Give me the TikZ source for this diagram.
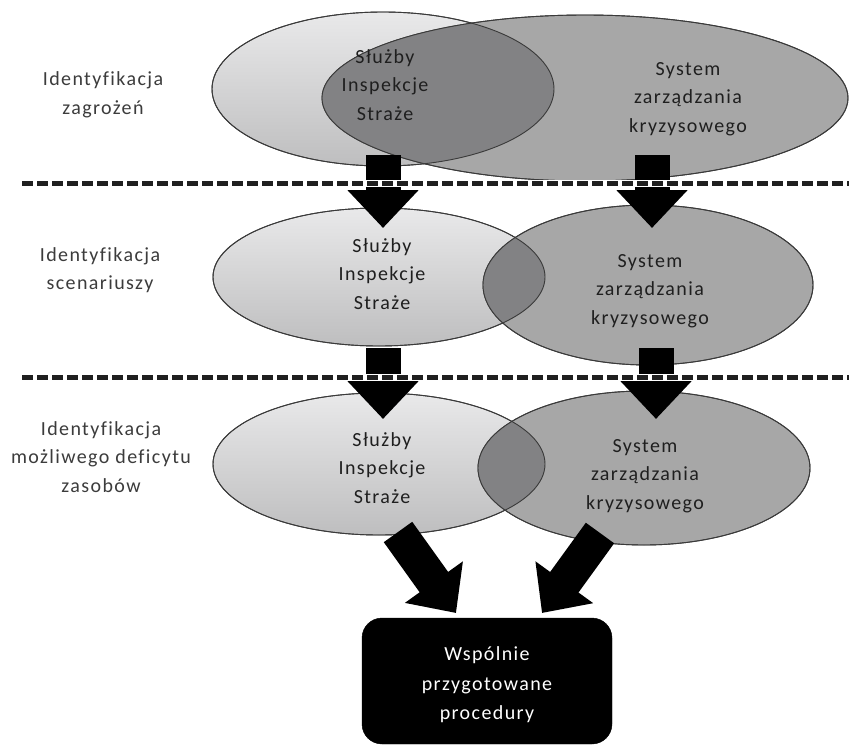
\documentclass[tikz,border=0pt]{standalone}
\usepackage{fontspec}
\setmainfont{Carlito}[LetterSpace=7, Ligatures=NoCommon]
\usetikzlibrary{shapes.geometric,arrows.meta,calc}

\definecolor{lightTop}{HTML}{E9E9EA}
\definecolor{lightBot}{HTML}{BEBEBF}
\definecolor{midGray}{HTML}{A7A7A7}
\definecolor{ovlGray}{HTML}{828284}
\definecolor{edgeGray}{HTML}{3A3A3A}
\definecolor{labelGray}{HTML}{3C3C3C}

\tikzset{
  lightell/.style={ellipse, inner sep=0pt, top color=lightTop, bottom color=lightBot,
    draw=edgeGray, line width=0.9pt},
  darkell/.style={ellipse, inner sep=0pt, fill=midGray, draw=edgeGray, line width=0.9pt},
  outl/.style={draw=edgeGray, line width=0.9pt},
  ovl/.style={fill=ovlGray},
  celltext/.style={align=center, text=black!88, font=\fontsize{20}{28.5}\selectfont},
  sidelabel/.style={align=center, text=labelGray, font=\fontsize{20}{28.5}\selectfont},
  boxtext/.style={align=center, text=white, font=\fontsize{20}{29.5}\selectfont},
  blockarrow/.style={line width=35pt, black, -{Triangle[width=69pt,length=38pt]}},
  divider/.style={line width=5pt, dash pattern=on 11pt off 4pt, black!88},
  dividerhalo/.style={line width=7pt, white},
  resultbox/.style={fill=black, rounded corners=20pt, draw=black},
}

\begin{document}
\begin{tikzpicture}[x=1pt, y=-1pt]
\useasboundingbox (0,0) rectangle (849,747);
\fill[white] (0,0) rectangle (849,747);

% ---------- row 1: hazard identification ----------
\node[lightell, minimum width=342pt, minimum height=154pt] (L1) at (383,89) {};
\node[darkell,  minimum width=526pt, minimum height=166pt] (R1) at (585,98) {};
\begin{scope}
  \clip (L1.center) ellipse [x radius=171, y radius=77];
  \fill[ovl] (R1.center) ellipse [x radius=263, y radius=83];
\end{scope}
\draw[outl] (L1.center) ellipse [x radius=171, y radius=77];
\draw[outl] (R1.center) ellipse [x radius=263, y radius=83];

\node[celltext] (L1t) at (385,85) {Służby\\Inspekcje\\Straże};
\node[celltext] (R1t) at (688,99) {System\\zarządzania\\kryzysowego};
\node[sidelabel] (S1) at (103,95) {Identyfikacja\\zagrożeń};

% ---------- row 2: scenario identification ----------
\node[lightell, minimum width=332pt, minimum height=138pt] (L2) at (379,277) {};
\node[darkell,  minimum width=330pt, minimum height=160pt] (R2) at (648,285) {};
\begin{scope}
  \clip (L2.center) ellipse [x radius=166, y radius=69];
  \fill[ovl] (R2.center) ellipse [x radius=165, y radius=80];
\end{scope}
\draw[outl] (L2.center) ellipse [x radius=166, y radius=69];
\draw[outl] (R2.center) ellipse [x radius=165, y radius=80];

\node[celltext] (L2t) at (382,274) {Służby\\Inspekcje\\Straże};
\node[celltext] (R2t) at (650,291) {System\\zarządzania\\kryzysowego};
\node[sidelabel] (S2) at (100,270) {Identyfikacja\\scenariuszy};

% ---------- row 3: resource deficit identification ----------
\node[lightell, minimum width=332pt, minimum height=142pt] (L3) at (379,464) {};
\node[darkell,  minimum width=332pt, minimum height=154pt] (R3) at (644,468) {};
\begin{scope}
  \clip (L3.center) ellipse [x radius=166, y radius=71];
  \fill[ovl] (R3.center) ellipse [x radius=166, y radius=77];
\end{scope}
\draw[outl] (L3.center) ellipse [x radius=166, y radius=71];
\draw[outl] (R3.center) ellipse [x radius=166, y radius=77];

\node[celltext] (L3t) at (382,468) {Służby\\Inspekcje\\Straże};
\node[celltext] (R3t) at (645,476) {System\\zarządzania\\kryzysowego};
\node[sidelabel] (S3) at (101,457) {Identyfikacja\\możliwego deficytu\\zasobów};

% ---------- result box ----------
\node[resultbox, minimum width=250pt, minimum height=126pt] (P) at (487,681) {};
\node[boxtext] (Pt) at (487,685) {Wspólnie\\przygotowane\\procedury};

% ---------- arrow end points ----------
\coordinate (a1s) at (383,155);  \coordinate (a1e) at (383,228);
\coordinate (b1s) at (652,155);  \coordinate (b1e) at (652,228);
\coordinate (a2s) at (383,348);  \coordinate (a2e) at (383,419);
\coordinate (b2s) at (656,348);  \coordinate (b2e) at (656,419);
\coordinate (a3s) at (398,532);  \coordinate (a3e) at (456,613);
\coordinate (b3s) at (600,533);  \coordinate (b3e) at (542,613);

% block arrows
\draw[blockarrow] (a1s) -- (a1e);
\draw[blockarrow] (b1s) -- (b1e);
\draw[blockarrow] (a2s) -- (a2e);
\draw[blockarrow] (b2s) -- (b2e);
\draw[blockarrow] (a3s) -- (a3e);
\draw[blockarrow] (b3s) -- (b3e);

% ---------- dashed stage dividers ----------
\coordinate (d1a) at (22,183);  \coordinate (d1b) at (849,183);
\coordinate (d2a) at (22,377);  \coordinate (d2b) at (849,377);
\draw[dividerhalo] (d1a) -- (d1b);
\draw[divider] (d1a) -- (d1b);
\draw[dividerhalo] (d2a) -- (d2b);
\draw[divider] (d2a) -- (d2b);
\end{tikzpicture}
\end{document}
